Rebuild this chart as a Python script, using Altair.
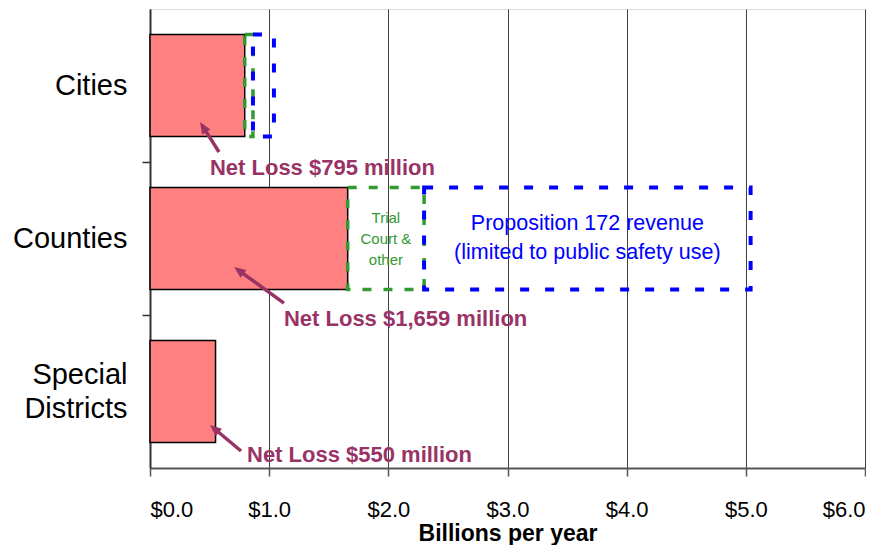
import altair as alt
import pandas as pd

FONT = "Liberation Sans"

# ---- data ----
categories = ["Cities", "Counties", "Special Districts"]
positions = [2.5, 1.5, 0.5]          # category centres on the y scale (top = Cities)
net_loss = [0.795, 1.659, 0.550]     # billions per year

box_positions = [2.5, 1.5]           # Cities, Counties
trial_court_end = [0.864, 2.30]
prop172_end = [1.04, 5.04]

inner_texts = ["Trial\nCourt &\nother", "Proposition 172 revenue\n(limited to public safety use)"]
inner_colors = ["#339933", "#0000FF"]

note_texts = ["Net Loss $795 million", "Net Loss $1,659 million", "Net Loss $550 million"]
note_x = [0.503, 1.124, 0.814]
note_y = [1.961, 0.974, 0.085]

arrow_tail_x = [0.579, 1.124, 0.764]
arrow_tail_y = [2.065, 1.078, 0.111]
arrow_tip_x = [0.420, 0.705, 0.503]
arrow_tip_y = [2.261, 1.314, 0.281]
arrow_angle = [328, 306, 310]

x_ticks = [0, 1, 2, 3, 4, 5, 6]

# ---- tables ----
HALF = 1 / 3
W, H = 715, 459
PX_X, PX_Y = W / 6, H / 3

bars_df = pd.DataFrame({"category": categories, "pos": positions, "loss": net_loss})
bars_df["y0"] = bars_df["pos"] - HALF
bars_df["y1"] = bars_df["pos"] + HALF
bars_df["x0"] = 0.0

green_df = pd.DataFrame({"x0": net_loss[:2], "x1": trial_court_end,
                         "y0": [p - HALF for p in box_positions], "y1": [p + HALF for p in box_positions]})
blue_df = pd.DataFrame({"x0": trial_court_end, "x1": prop172_end,
                        "y0": [p - HALF for p in box_positions], "y1": [p + HALF for p in box_positions]})

inner_df = pd.DataFrame({
    "text": inner_texts,
    "x": [(net_loss[1] + trial_court_end[1]) / 2, (trial_court_end[1] + prop172_end[1]) / 2],
    "y": [box_positions[1], box_positions[1]],
    "color": inner_colors,
})

notes_df = pd.DataFrame({"text": note_texts, "x": note_x, "y": note_y})

# shaft ends a few pixels short of the tip so the head covers the end
shaft_end_x, shaft_end_y = [], []
for tx, ty, hx, hy in zip(arrow_tail_x, arrow_tail_y, arrow_tip_x, arrow_tip_y):
    dxp, dyp = (tx - hx) * PX_X, (ty - hy) * PX_Y
    L = (dxp ** 2 + dyp ** 2) ** 0.5
    f = 9 / L
    shaft_end_x.append(hx + (tx - hx) * f)
    shaft_end_y.append(hy + (ty - hy) * f)
arrows_df = pd.DataFrame({"tx": arrow_tail_x, "ty": arrow_tail_y,
                          "sx": shaft_end_x, "sy": shaft_end_y,
                          "hx": arrow_tip_x, "hy": arrow_tip_y, "angle": arrow_angle})

# ---- scales / axes ----
x_scale = alt.Scale(domain=[0, 6], nice=False, zero=True)
y_scale = alt.Scale(domain=[0, 3], nice=False, zero=True)

label_expr = " : ".join(
    f"datum.value == {p} ? " + (
        "[" + ", ".join(f"'{w}'" for w in c.split(" ")) + "]" if " " in c else f"'{c}'"
    )
    for c, p in zip(categories, positions)
) + " : ''"
multi_line_test = " || ".join(f"datum.value == {p}" for c, p in zip(categories, positions) if " " in c)

y_axis = alt.Axis(
    values=[0.5, 1, 1.5, 2, 2.5], labelExpr=label_expr, title=None, grid=False,
    labelFont=FONT, labelFontSize=29, labelColor="black", labelLineHeight=34,
    labelOffset={"condition": {"test": multi_line_test, "value": -17}, "value": 0},
    labelPadding=15, tickSize=8, tickColor="#333333", tickWidth=1.5,
    tickOpacity={"condition": {"test": "datum.value % 1 == 0", "value": 1}, "value": 0},
    domainColor="#333333", domainWidth=2,
)
x_axis = alt.Axis(
    values=x_ticks, format="$.1f", title="Billions per year",
    labelFont=FONT, labelFontSize=22, labelColor="black", labelPadding=23,
    titleFont=FONT, titleFontSize=23, titleFontWeight="bold", titleColor="black", titlePadding=2,
    tickSize=8, tickColor="#555555", tickWidth=1.5,
    grid=True, gridColor="#404040", gridWidth=1,
    domainColor="#555555", domainWidth=2,
)

bars = alt.Chart(bars_df).mark_rect(fill="#FF8080", stroke="black", strokeWidth=1.5).encode(
    x=alt.X("x0:Q", scale=x_scale, axis=x_axis),
    x2="loss:Q",
    y=alt.Y("y0:Q", scale=y_scale, axis=y_axis),
    y2="y1:Q",
)

green = alt.Chart(green_df).mark_rect(fill="transparent", stroke="#339933", strokeWidth=3.5,
                                      strokeDash=[9, 12]).encode(
    x="x0:Q", x2="x1:Q", y="y0:Q", y2="y1:Q")

blue = alt.Chart(blue_df).mark_rect(fill="transparent", stroke="#0000FF", strokeWidth=4,
                                    strokeDash=[9, 16]).encode(
    x="x0:Q", x2="x1:Q", y="y0:Q", y2="y1:Q")

green_text = alt.Chart(inner_df.iloc[[0]]).mark_text(
    font=FONT, fontSize=15, color=inner_colors[0], lineBreak="\n", lineHeight=21,
    align="center", baseline="middle", dy=-21).encode(x="x:Q", y="y:Q", text="text:N")

blue_text = alt.Chart(inner_df.iloc[[1]]).mark_text(
    font=FONT, fontSize=21.5, color=inner_colors[1], lineBreak="\n", lineHeight=29,
    align="center", baseline="middle", dy=-14.5).encode(x="x:Q", y="y:Q", text="text:N")

shafts = alt.Chart(arrows_df).mark_rule(color="#993366", strokeWidth=3.5).encode(
    x="tx:Q", y="ty:Q", x2="sx:Q", y2="sy:Q")

heads = alt.Chart(arrows_df).mark_point(
    shape="M0,0L0.5,1.2L-0.5,1.2Z", filled=True, color="#993366", opacity=1, size=380
).encode(x="hx:Q", y="hy:Q", angle=alt.Angle("angle:Q", scale=None))

notes = alt.Chart(notes_df).mark_text(
    font=FONT, fontSize=22, fontWeight="bold", color="#993366", align="left", baseline="middle"
).encode(x="x:Q", y="y:Q", text="text:N")

chart = alt.layer(bars, green, blue, green_text, blue_text, shafts, heads, notes).properties(
    width=W, height=H,
    padding={"left": 4, "top": 1, "right": 0, "bottom": 0},
).configure_view(stroke="#808080", strokeWidth=2).configure(background="white")

chart.save("out.html", embed_options={"renderer": "svg", "actions": False})
